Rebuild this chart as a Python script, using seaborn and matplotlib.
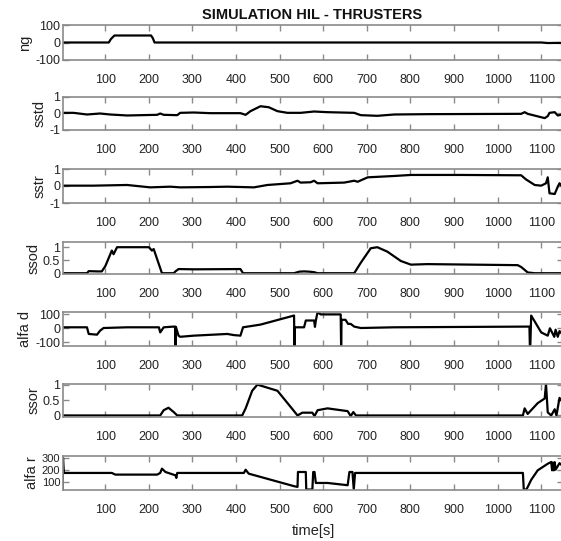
import numpy as np
import pandas as pd
import matplotlib
matplotlib.use("Agg")
import matplotlib.pyplot as plt
import seaborn as sns

# valori (tempo in s)
ng_t = [3, 108, 113, 121, 205, 209, 213, 1100, 1115, 1148]
ng_v = [0, 0, 20, 40, 40, 25, 0, 0, -3, -2]

sstd_t = [3, 27, 58, 88, 111, 150, 219, 226, 234, 265, 272, 303, 341, 410, 422, 433, 456,
          475, 495, 518, 548, 579, 610, 671, 686, 724, 763, 839, 1054, 1062, 1069, 1108,
          1115, 1119, 1131, 1138, 1148]
sstd_v = [0.04, 0.04, -0.06, 0, -0.06, -0.12, -0.08, 0, -0.08, -0.1, 0.04, 0.06, 0.02, 0.02,
          -0.08, 0.14, 0.44, 0.38, 0.14, 0.04, 0.04, 0.12, 0.08, 0.04, -0.1, -0.14, -0.06,
          -0.04, -0.02, 0.08, -0.02, -0.28, -0.16, 0.04, 0.08, -0.12, -0.06]

sstr_t = [3, 73, 150, 203, 249, 272, 341, 380, 441, 472, 525, 541, 548, 571, 579, 587, 648,
          671, 679, 702, 763, 801, 916, 1054, 1065, 1085, 1100, 1111, 1115, 1119, 1131, 1138,
          1142, 1148]
sstr_v = [0.02, 0.02, 0.06, -0.08, -0.04, -0.08, -0.06, -0.04, -0.08, 0.06, 0.16, 0.31, 0.2,
          0.22, 0.31, 0.16, 0.2, 0.31, 0.25, 0.51, 0.59, 0.65, 0.65, 0.63, 0.39, 0.06, 0.02,
          0.16, 0.51, -0.43, -0.47, -0.04, 0.16, -0.04]

ssod_t = [3, 58, 62, 81, 92, 100, 115, 119, 127, 200, 207, 211, 230, 257, 261, 268, 303, 410,
          416, 533, 545, 556, 568, 579, 587, 656, 671, 686, 709, 724, 747, 778, 801, 839, 1046,
          1054, 1069, 1085, 1148]
ssod_v = [0, 0, 0.08, 0.07, 0.07, 0.27, 0.87, 0.73, 1.0, 1.0, 0.87, 0.93, 0, 0, 0.07, 0.16,
          0.15, 0.16, 0, 0, 0.06, 0.07, 0.06, 0.04, 0, 0, 0, 0.4, 0.96, 1.0, 0.83, 0.47, 0.33,
          0.35, 0.31, 0.24, 0.03, 0, 0]

alfad_t = [3, 58, 62, 81, 88, 96, 150, 223, 226, 234, 257, 260, 261, 262, 268, 272, 303, 380,
           395, 410, 416, 456, 533, 534, 535, 541, 556, 560, 579, 581, 583, 587, 594, 640, 641,
           642, 651, 657, 663, 671, 686, 763, 1073, 1074, 1075, 1077, 1100, 1115, 1120, 1130,
           1133, 1138, 1142, 1148]
alfad_v = [7, 7, -40, -45, -17, 2, 7, 7, -29, 7, 12, 12, -125, 10, -52, -60, -52, -40, -48,
           -52, 7, 26, 90, -125, 7, 7, 7, 55, 55, 10, 55, 114, 98, 98, -125, 60, 60, 31, 31, 12,
           2, 7, 12, -125, -125, 90, -29, -52, 0, -60, -10, -60, -20, -40]

ssor_t = [3, 226, 234, 245, 257, 265, 414, 422, 437, 449, 495, 525, 541, 552, 575, 580, 587,
          610, 625, 656, 663, 669, 675, 1058, 1062, 1069, 1092, 1108, 1111, 1115, 1123, 1131,
          1135, 1142, 1148]
ssor_v = [0, 0, 0.17, 0.25, 0.11, 0, 0, 0.23, 0.8, 1.0, 0.8, 0.28, 0, 0.09, 0.09, -0.02,
          0.17, 0.23, 0.2, 0.14, -0.02, 0.11, 0, 0, 0.23, 0.05, 0.4, 0.55, 1.02, 0.1, 0, 0.2,
          0, 0.57, 0.45]

alfar_t = [2, 3, 5, 115, 123, 219, 226, 230, 238, 261, 263, 265, 418, 422, 429, 533, 541, 542,
           560, 561, 575, 577, 580, 583, 610, 656, 660, 667, 670, 673, 1058, 1060, 1066, 1069,
           1077, 1092, 1115, 1123, 1125, 1127, 1129, 1131, 1133, 1142, 1148]
alfar_v = [40, 305, 178, 178, 164, 164, 178, 214, 186, 158, 136, 178, 178, 205, 172, 67, 61,
           186, 186, 39, 39, 186, 186, 94, 94, 75, 186, 186, 39, 178, 178, 39, 39, 60, 120, 200,
           255, 270, 200, 265, 200, 268, 205, 260, 240]

panels = [
    ("ng", ng_t, ng_v, (-100, 100), [-100, 0, 100], ["-100", "0", "100"]),
    ("sstd", sstd_t, sstd_v, (-1, 1), [-1, 0, 1], ["-1", "0", "1"]),
    ("sstr", sstr_t, sstr_v, (-1, 1), [-1, 0, 1], ["-1", "0", "1"]),
    ("ssod", ssod_t, ssod_v, (-0.03, 1.2), [0, 0.5, 1], ["0", "0.5", "1"]),
    ("alfa d", alfad_t, alfad_v, (-125, 115), [-100, 0, 100], ["-100", "0", "100"]),
    ("ssor", ssor_t, ssor_v, (-0.05, 1.02), [0, 0.5, 1], ["0", "0.5", "1"]),
    ("alfa r", alfar_t, alfar_v, (35, 320), [100, 200, 300], ["100", "200", "300"]),
]
# (top, bottom) di ogni riquadro in pixel
boxes = [(25, 60), (97, 130), (169, 203), (242, 274), (312, 346), (384, 417), (456, 490)]
xticks = list(range(100, 1200, 100))

sns.set_style("ticks")
plt.rcParams['font.family'] = ['Liberation Sans', 'DejaVu Sans']
plt.rcParams['font.size'] = 10

W, H = 561, 541
fig = plt.figure(figsize=(W / 100, H / 100), dpi=100)
left = 63 / W
width = (563 - 63) / W
grey = "#8a8a8a"

axes = []
for (name, t, v, ylim, yt, ytl), (top, bot) in zip(panels, boxes):
    ax = fig.add_axes([left, 1 - bot / H, width, (bot - top) / H])
    df = pd.DataFrame({"t": t, "v": v})
    sns.lineplot(data=df, x="t", y="v", ax=ax, color="black", lw=1.6,
                 estimator=None, sort=False)
    ax.set_xlim(3, 1150)
    ax.set_ylim(*ylim)
    ax.set_xticks(xticks)
    ax.set_xticklabels([str(x) for x in xticks])
    ax.set_yticks(yt)
    ax.set_yticklabels(ytl)
    ax.set_ylabel(name, fontsize=10.5, color="#222222", labelpad=2)
    ax.set_xlabel("")
    ysize = 8 if name == "alfa r" else 9
    ax.tick_params(axis="x", direction="in", top=True, length=4, width=1, color=grey,
                   pad=10, labelsize=9, labelcolor="#222222")
    ax.tick_params(axis="y", direction="in", right=True, length=4, width=1, color=grey,
                   pad=2, labelsize=ysize, labelcolor="#222222")
    for s in ax.spines.values():
        s.set_visible(True)
        s.set_color(grey)
        s.set_linewidth(1.2)
    axes.append(ax)

axes[-1].set_xlabel("time[s]", fontsize=10.5, color="#222222", labelpad=6)
fig.text(312 / W, 1 - 15 / H, "SIMULATION HIL - THRUSTERS", ha="center", va="center",
         fontsize=10.5, fontweight="bold", color="#111111")

fig.savefig("out.png", dpi=100)
